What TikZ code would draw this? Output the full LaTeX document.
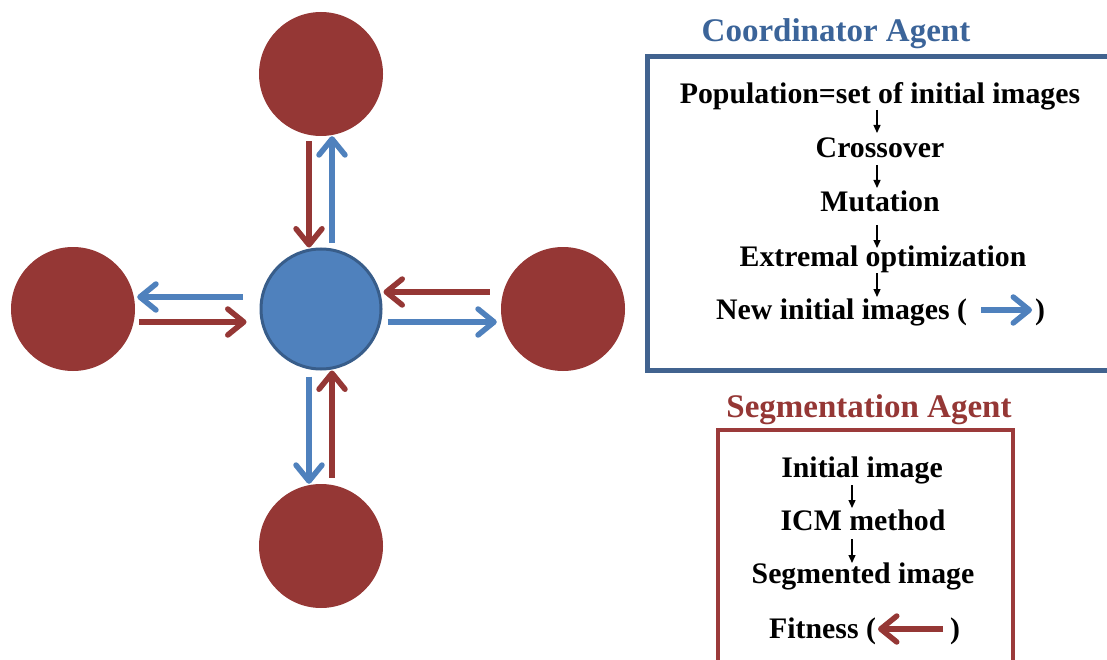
\documentclass[tikz,border=0pt]{standalone}
\usepackage{fontspec}
\setmainfont{Liberation Serif}
\usetikzlibrary{arrows.meta}
\definecolor{agred}{HTML}{953735}
\definecolor{agblue}{HTML}{4F81BD}
\definecolor{agdblue}{HTML}{385D8A}
\definecolor{titleblue}{HTML}{3B6499}
\definecolor{boxblue}{HTML}{41638F}
\definecolor{boxred}{HTML}{9B3A3A}
\tikzset{
  redc/.style={circle,fill=agred,minimum size=124pt,inner sep=0pt},
  bluec/.style={circle,fill=agblue,draw=agdblue,line width=3pt,minimum size=120pt,inner sep=0pt},
  bigarrow/.style={line width=5.5pt,-{Straight Barb[length=16pt,width=26pt,line cap=round,line join=round]}},
  redarrow/.style={bigarrow,draw=agred},
  bluearrow/.style={bigarrow,draw=agblue},
  smallarrow/.style={line width=1.3pt,black,-{Triangle[length=8pt,width=7pt]}},
  title/.style={font=\fontsize{33}{36}\selectfont\bfseries,inner sep=0pt,anchor=base},
  body/.style={font=\fontsize{29.8}{32}\selectfont\bfseries,inner sep=0pt,anchor=base,text=black},
}
\begin{document}
\begin{tikzpicture}[x=1pt,y=-1pt]
\useasboundingbox (0,0) rectangle (1107,660);
\clip (0,0) rectangle (1107,660);
% circles
\node[bluec] (ctr) at (321,309) {};
\node[redc] (top) at (321,74) {};
\node[redc] (bot) at (321,546) {};
\node[redc] (lft) at (73,309) {};
\node[redc] (rgt) at (563,309) {};
% top pair
\draw[redarrow,shorten <=5pt] ([xshift=-12pt]top.south) -- ([xshift=-12pt]ctr.north);
\draw[bluearrow,shorten <=5pt] ([xshift=11pt]ctr.north) -- ([xshift=11pt]top.south);
% bottom pair
\draw[bluearrow,shorten <=6pt] ([xshift=-12pt]ctr.south) -- ([xshift=-12pt]bot.north);
\draw[redarrow,shorten <=6pt] ([xshift=11pt]bot.north) -- ([xshift=11pt]ctr.south);
% left pair
\draw[bluearrow,shorten <=17pt,shorten >=2pt] ([yshift=12pt]ctr.west) -- ([yshift=12pt]lft.east);
\draw[redarrow,shorten <=4pt,shorten >=13pt] ([yshift=-13pt]lft.east) -- ([yshift=-13pt]ctr.west);
% right pair
\draw[redarrow,shorten <=11pt,shorten >=1pt] ([yshift=17pt]rgt.west) -- ([yshift=17pt]ctr.east);
\draw[bluearrow,shorten <=5pt,shorten >=4pt] ([yshift=-13pt]ctr.east) -- ([yshift=-13pt]rgt.west);
% Coordinator agent
\node[title,text=titleblue] (ctitle) at (836,42) {Coordinator Agent};
\draw[boxblue,line width=5pt] (647,57) rectangle (1130,370);
\node[body] (pop) at (880,104) {Population=set of initial images};
\node[body] (cross) at (880,158) {Crossover};
\node[body] (mut) at (880,212) {Mutation};
\node[body] (ext) at (883,266) {Extremal optimization};
\node[body,anchor=base west] (newl) at (716,319) {New initial images (};
\node[body,anchor=base west] (newr) at (1035,319) {)};
\draw[smallarrow] ([shift={(-3pt,-6pt)}]pop.base) -- ([shift={(-3pt,25pt)}]cross.base);
\draw[smallarrow] ([shift={(-3pt,-7pt)}]cross.base) -- ([shift={(-3pt,24pt)}]mut.base);
\draw[smallarrow] ([shift={(-3pt,-13pt)}]mut.base) -- ([shift={(-6pt,18pt)}]ext.base);
\draw[smallarrow] ([shift={(-6pt,-7pt)}]ext.base) -- ([shift={(-6pt,22pt)}]newl.base -| ext.base);
\coordinate (lb1) at (981,310);
\coordinate (lb2) at (1032,310);
\draw[bluearrow] (lb1) -- (lb2);
% Segmentation agent
\node[title,text=agred] (stitle) at (869,417) {Segmentation Agent};
\draw[boxred,line width=4pt] (718,430) rectangle (1013,680);
\node[body] (init) at (862,477) {Initial image};
\node[body] (icm) at (863,530) {ICM method};
\node[body] (segm) at (863,583) {Segmented image};
\node[body,anchor=base west] (fitl) at (769,638) {Fitness (};
\node[body,anchor=base west] (fitr) at (950,638) {)};
\draw[smallarrow] ([shift={(-10pt,-8pt)}]init.base) -- ([shift={(-11pt,22pt)}]icm.base);
\draw[smallarrow] ([shift={(-11pt,-9pt)}]icm.base) -- ([shift={(-11pt,20pt)}]segm.base);
\coordinate (lr1) at (943,629);
\coordinate (lr2) at (878,629);
\draw[redarrow] (lr1) -- (lr2);
\end{tikzpicture}
\end{document}
